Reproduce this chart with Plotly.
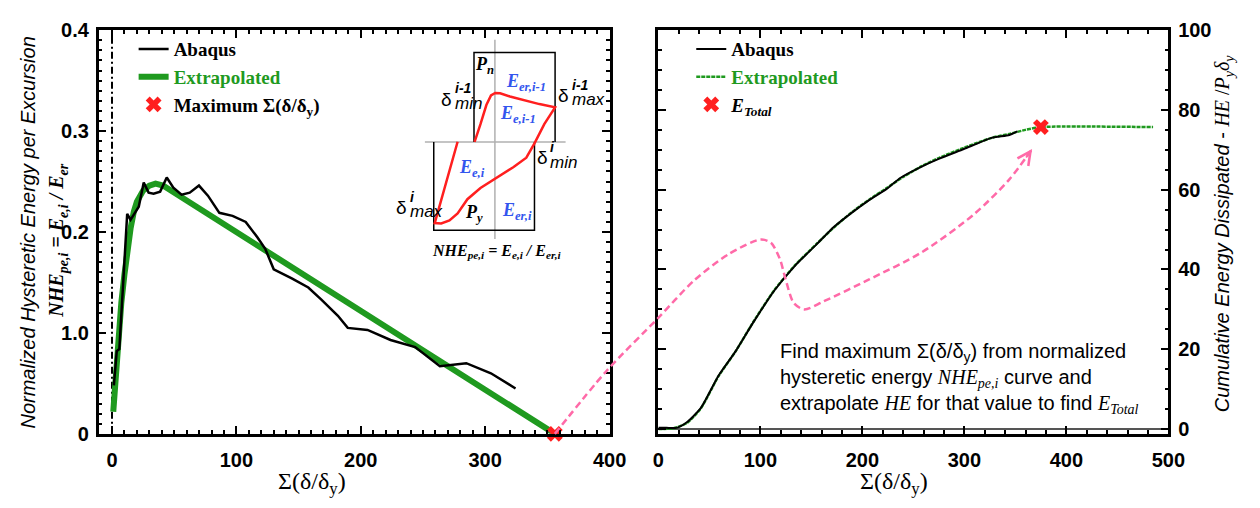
import plotly.graph_objects as go

W, H = 1260, 508
SANS = "Liberation Sans"
SERIF = "Liberation Serif"
GREEN = "#1f9a1f"
RED = "#ff1f1f"
PINK = "#ff6aa8"
BLUE = "#3355ee"

# ---------------- left panel: normalized hysteretic energy per excursion ----------------
nhe_abaqus_x = [1.5, 2.7, 3.8, 5.9, 12.2, 14.9, 21.5, 25.5, 29.4, 33.4, 38.7, 44.0, 49.3, 55.9,
                62.5, 69.9, 77.1, 86.3, 96.9, 107.5, 116.7, 123.3, 130.0, 144.5, 157.8, 168.3,
                181.6, 189.5, 205.4, 223.9, 243.7, 263.6, 284.8, 304.6, 324.4]
nhe_abaqus_y = [0.048, 0.069, 0.082, 0.084, 0.218, 0.212, 0.225, 0.249, 0.239, 0.238, 0.240, 0.254,
                0.244, 0.237, 0.239, 0.246, 0.236, 0.219, 0.216, 0.210, 0.195, 0.183, 0.163, 0.154,
                0.145, 0.133, 0.117, 0.105, 0.103, 0.093, 0.086, 0.067, 0.070, 0.060, 0.045]

nhe_fit_x = [1.0, 3.0, 5.0, 7.5, 10.0, 12.5, 15.0, 17.5, 20.0, 25.0, 30.0, 35.0, 41.0, 356.0]
nhe_fit_y = [0.022, 0.060, 0.095, 0.130, 0.158, 0.185, 0.204, 0.220, 0.230, 0.241, 0.246, 0.248,
             0.246, 0.0]

max_sum_x = 356.0   # maximum Σ(δ/δy) where the extrapolated NHE reaches zero
max_sum_y = 0.0

nhe_tickvals = [0, 0.1, 0.2, 0.3, 0.4]
nhe_ticktext = ["0", "1.0", "0.2", "0.3", "0.4"]

# ---------------- right panel: cumulative hysteretic energy ----------------
he_abaqus_x = [0, 8, 17.6, 27.9, 41.7, 58.8, 76.0, 93.2, 113.9, 134.5, 155.1, 172.3, 189.4, 206.6,
               223.8, 237.5, 258.1, 275.4, 299.4, 326.8, 344.1, 352.0]
he_abaqus_y = [0.3, 0.3, 0.3, 1.7, 5.3, 13.3, 19.6, 26.8, 34.8, 41.1, 46.3, 50.7, 54.2, 57.4,
               60.2, 63.0, 65.8, 67.8, 70.2, 73.0, 73.7, 74.6]

he_fit_x = [0, 15, 27.9, 41.7, 58.8, 76, 93.2, 113.9, 134.5, 155.1, 172.3, 189.4, 206.6, 223.8,
            240, 258.1, 275.4, 299.4, 326.8, 344.1, 360, 375, 485]
he_fit_y = [0.0, 0.2, 1.5, 5.2, 13.2, 19.6, 26.9, 34.9, 41.2, 46.4, 50.6, 54.3, 57.5, 60.4, 63.2,
            65.9, 68.0, 70.5, 73.0, 74.0, 75.0, 75.7, 75.7]

e_total_x = 375.0
e_total_y = 75.7

# ---------------- schematic of two consecutive excursions (diagram units) ----------------
loop_u = [-38, -61.3, -54.7, -46.3, -38, -28, -14.7, 2, 18.7, 32, 40.3, 50.3, 61.3, 45.3, 28.7,
          15.3, 5.3, 0.3, -4, -8.7, -14.7, -20.7]
loop_v = [0.3, -84.7, -85, -82, -74.7, -59.7, -48, -37, -26.3, -16.3, -1.3, 18.7, 36.3, 39.7, 43.7,
          47.7, 51, 51.3, 48.7, 38.7, 18.7, 0.3]
box_upper_u = [-21.3, -21.3, 61.3, 61.3]
box_upper_v = [0, 93.7, 93.7, 0]
box_lower_u = [-62.3, -62.3, 40.3, 40.3]
box_lower_v = [0, -92.3, -92.3, 0]
axis_h_u, axis_h_v = [-71.3, 72], [0, 0]
axis_v_u, axis_v_v = [0, 0], [107, -101.3]

# route of the guide arrow in right-panel units (Σ(δ/δy), HE/Pyδy)
arrow_route_x = [-51.1, 0.4, 34.8, 69.2, 100.1, 110.4, 119.0, 124.8, 132.7, 143.0, 161.9, 206.6,
                 258.1, 309.7, 344.1, 366.4]
arrow_route_y = [14.5, 28.0, 37.2, 43.9, 47.5, 46.7, 42.7, 37.5, 31.6, 30.0, 32.0, 37.5, 44.3,
                 53.9, 62.6, 70.2]


def px_x(p):
    return p / W


def px_y(p):
    return 1 - p / H


# subplot geometry
dom_lx = [px_x(94.3), px_x(614.8)]
dom_ly = [px_y(442), px_y(20)]
dom_rx = [px_x(664.5), px_x(1184)]
dom_ry = [px_y(442), px_y(20)]
rng_lx = [-10.8, 400]
rng_ly = [0, 0.4]
rng_rx = [0, 500]
rng_ry = [-1.2, 100]


def full_range(dom, rng):
    k = (rng[1] - rng[0]) / (dom[1] - dom[0])
    return [rng[0] - dom[0] * k, rng[1] + (1 - dom[1]) * k]


ovr_x = full_range(dom_rx, rng_rx)
ovr_y = full_range(dom_ry, rng_ry)


def to_overlay(v, dom, rng, ovr):
    paper = dom[0] + (v - rng[0]) / (rng[1] - rng[0]) * (dom[1] - dom[0])
    return ovr[0] + paper * (ovr[1] - ovr[0])


start_x = to_overlay(max_sum_x, dom_lx, rng_lx, ovr_x)
start_y = to_overlay(max_sum_y, dom_ly, rng_ly, ovr_y)

fig = go.Figure()

# left panel traces
fig.add_trace(go.Scatter(x=nhe_fit_x, y=nhe_fit_y, mode="lines", name="Extrapolated",
                         line=dict(color=GREEN, width=6), xaxis="x", yaxis="y",
                         legend="legend", legendrank=2))
fig.add_trace(go.Scatter(x=nhe_abaqus_x, y=nhe_abaqus_y, mode="lines", name="Abaqus",
                         line=dict(color="black", width=2.5), xaxis="x", yaxis="y",
                         legend="legend", legendrank=1))
fig.add_trace(go.Scatter(x=[max_sum_x], y=[max_sum_y], mode="markers",
                         name="Maximum Σ(δ/δ<sub>y</sub>)",
                         marker=dict(symbol="x", size=14, color=RED, line=dict(width=0)),
                         cliponaxis=False, xaxis="x", yaxis="y", legend="legend", legendrank=3))

# right panel traces
fig.add_trace(go.Scatter(x=he_fit_x, y=he_fit_y, mode="lines", name="Extrapolated",
                         line=dict(color=GREEN, width=2.5, dash="4px,1px", shape="spline",
                                   smoothing=0.6),
                         xaxis="x2", yaxis="y2", legend="legend2", legendrank=2))
fig.add_trace(go.Scatter(x=he_abaqus_x, y=he_abaqus_y, mode="lines", name="Abaqus",
                         line=dict(color="black", width=2, shape="spline", smoothing=0.6),
                         xaxis="x2", yaxis="y2", legend="legend2", legendrank=1))
fig.add_trace(go.Scatter(x=[e_total_x], y=[e_total_y], mode="markers",
                         name="<i>E</i><sub><i>Total</i></sub>",
                         marker=dict(symbol="x", size=14, color=RED, line=dict(width=0)),
                         cliponaxis=False, xaxis="x2", yaxis="y2", legend="legend2",
                         legendrank=3))

# schematic inset
for uu, vv, col, wd in [(axis_h_u, axis_h_v, "#b0b0b0", 1.5),
                        (axis_v_u, axis_v_v, "#b0b0b0", 1.5),
                        (box_upper_u, box_upper_v, "black", 1.5),
                        (box_lower_u, box_lower_v, "black", 1.5),
                        (loop_u, loop_v, RED, 2.5)]:
    fig.add_trace(go.Scatter(x=uu, y=vv, mode="lines", line=dict(color=col, width=wd),
                             xaxis="x3", yaxis="y3", showlegend=False, hoverinfo="skip"))

# guide arrow between the panels
fig.add_trace(go.Scatter(x=[start_x] + arrow_route_x, y=[start_y] + arrow_route_y, mode="lines",
                         line=dict(color=PINK, width=2.5, dash="7px,4px", shape="spline",
                                   smoothing=0.8),
                         xaxis="x4", yaxis="y4", showlegend=False, hoverinfo="skip"))

tick_font = dict(family=SANS, size=20, color="black", weight="bold")
axis_common = dict(showline=True, linewidth=2.5, linecolor="black", mirror="ticks",
                   ticks="inside", ticklen=8, tickwidth=2, tickcolor="black",
                   showgrid=False, tickfont=tick_font)

fig.update_layout(
    width=W, height=H,
    margin=dict(l=0, r=0, t=0, b=0),
    paper_bgcolor="white", plot_bgcolor="rgba(0,0,0,0)",
    xaxis=dict(domain=dom_lx, range=rng_lx, anchor="y", tickmode="array",
               tickvals=[0, 100, 200, 300, 400], ticklabelstandoff=6, zeroline=False,
               minor=dict(dtick=10, tick0=0, ticks="inside", ticklen=4, tickwidth=1.5,
                          tickcolor="black"),
               **axis_common),
    yaxis=dict(domain=dom_ly, range=rng_ly, anchor="x", tickmode="array",
               tickvals=nhe_tickvals, ticktext=nhe_ticktext, ticklabelstandoff=3,
               zeroline=False,
               minor=dict(dtick=0.01, tick0=0, ticks="inside", ticklen=4, tickwidth=1.5,
                          tickcolor="black"),
               **axis_common),
    xaxis2=dict(domain=dom_rx, range=rng_rx, anchor="y2", dtick=100, tick0=0,
                ticklabelstandoff=6, zeroline=False,
                minor=dict(dtick=20, tick0=0, ticks="inside", ticklen=4, tickwidth=1.5,
                           tickcolor="black"),
                **axis_common),
    yaxis2=dict(domain=dom_ry, range=rng_ry, anchor="x2", side="right", dtick=20, tick0=0,
                ticklabelstandoff=3, zeroline=True, zerolinecolor="#555555", zerolinewidth=1.5,
                minor=dict(dtick=5, tick0=0, ticks="inside", ticklen=4, tickwidth=1.5,
                           tickcolor="black"),
                **axis_common),
    xaxis3=dict(domain=[px_x(498 - 105), px_x(498 + 80)], range=[-105, 80], visible=False,
                anchor="y3"),
    yaxis3=dict(domain=[px_y(137 + 120), px_y(137 - 110)], range=[-120, 110], visible=False,
                anchor="x3"),
    xaxis4=dict(domain=[0, 1], range=ovr_x, visible=False, anchor="y4"),
    yaxis4=dict(domain=[0, 1], range=ovr_y, visible=False, anchor="x4"),
    legend=dict(x=px_x(130), y=px_y(20), xanchor="left", yanchor="top",
                bgcolor="rgba(0,0,0,0)", tracegroupgap=0,
                font=dict(family=SERIF, size=19, color="black", weight="bold")),
    legend2=dict(x=px_x(698), y=px_y(20), xanchor="left", yanchor="top",
                 bgcolor="rgba(0,0,0,0)", tracegroupgap=0,
                 font=dict(family=SERIF, size=19, color="black", weight="bold")),
    showlegend=True,
)

# colour the "Extrapolated" legend labels green
for tr in fig.data:
    if tr.name == "Extrapolated":
        tr.name = f"<span style='color:{GREEN}'>Extrapolated</span>"

# dash-dot reference line at Σ(δ/δy) = 0
fig.add_shape(type="line", xref="x", yref="y domain", x0=0, x1=0, y0=0, y1=1,
              line=dict(color="black", width=2, dash="7px,3px,2px,3px"), layer="below")

annotations = []


def note(text, x, y, size, family=SANS, color="black", xref="paper", yref="paper",
         angle=0, xanchor="center", yanchor="middle", align="center", weight="normal"):
    annotations.append(dict(text=text, x=x, y=y, xref=xref, yref=yref, showarrow=False,
                            textangle=angle, xanchor=xanchor, yanchor=yanchor, align=align,
                            font=dict(family=family, size=size, color=color, weight=weight)))


serif_span = "<span style='font-family:Liberation Serif'>{}</span>"

# axis titles
note("<i>Normalized Hysteretic Energy per Excursion</i>", px_x(22), px_y(232), 20, angle=-90)
note("<b><i>NHE<sub>pe,i</sub> = E<sub>e,i</sub> / E<sub>er</sub></i></b>", px_x(53), px_y(240),
     20, family=SERIF, angle=-90)
note("<i>Cumulative Energy Dissipated</i> - "
     + serif_span.format("<i>HE</i> /<i>P<sub>y</sub>δ<sub>y</sub></i>"),
     px_x(1241), px_y(232), 20, angle=-90)
note("Σ(δ/δ<sub>y</sub>)", px_x(312), px_y(493), 24, family=SERIF)
note("Σ(δ/δ<sub>y</sub>)", px_x(905), px_y(493), 24, family=SERIF)

# explanatory text in the right panel
note("Find maximum Σ(δ/δ<sub>y</sub>) from normalized<br>"
     "hysteretic energy " + serif_span.format("<i>NHE<sub>pe,i</sub></i>") + " curve and<br>"
     "extrapolate " + serif_span.format("<i>HE</i>") + " for that value to find "
     + serif_span.format("<i>E<sub>Total</sub></i>"),
     px_x(786), px_y(384), 20, xanchor="left", align="left")

# schematic labels
ins = dict(xref="x3", yref="y3")
note("<b><i>P<sub>n</sub></i></b>", -11, 80, 18, family=SERIF, **ins)
note("<b><i>P<sub>y</sub></i></b>", -21, -75, 18, family=SERIF, **ins)
note("<b><i>E<sub>er,i-1</sub></i></b>", 32, 62, 18, family=SERIF, color=BLUE, **ins)
note("<b><i>E<sub>e,i-1</sub></i></b>", 24, 29, 18, family=SERIF, color=BLUE, **ins)
note("<b><i>E<sub>e,i</sub></i></b>", -23, -28, 18, family=SERIF, color=BLUE, **ins)
note("<b><i>E<sub>er,i</sub></i></b>", 22, -73, 18, family=SERIF, color=BLUE, **ins)
note("<b><i>NHE<sub>pe,i</sub> = E<sub>e,i</sub> / E<sub>er,i</sub></i></b>", 2, -114, 16,
     family=SERIF, **ins)

# δ labels with stacked super/subscripts
for du, dv, sup, sub in [(-49, 45, "i-1", "min"), (70, 49, "i-1", "max"),
                         (48, -16, "i", "min"), (-95, -68, "i", "max")]:
    note("δ", du, dv, 19, **ins)
    note(f"<i>{sup}</i>", du + 6, dv + 11, 14, xanchor="left", weight="bold", **ins)
    note(f"<i>{sub}</i>", du + 6, dv - 5, 17, xanchor="left", **ins)

# arrowhead of the guide arrow
annotations.append(dict(x=arrow_route_x[-1], y=arrow_route_y[-1], xref="x4", yref="y4",
                        ax=-7, ay=10, text="", showarrow=True, arrowhead=5, arrowsize=1.3,
                        arrowwidth=2, arrowcolor=PINK))

fig.update_layout(annotations=annotations)

fig.write_html("out.html")
